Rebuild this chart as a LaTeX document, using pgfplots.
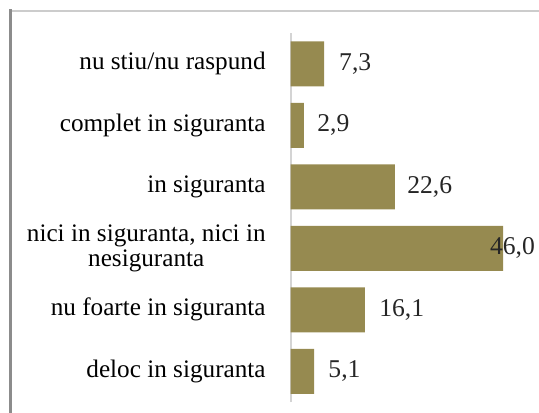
\documentclass[border=0pt]{standalone}
\usepackage{pgfplots}
\pgfplotsset{compat=1.18}
\usepackage{fontspec}
\setmainfont{Liberation Serif}
\definecolor{barcol}{RGB}{150,138,80}
\definecolor{framecol}{RGB}{140,140,140}
\definecolor{toplinecol}{RGB}{204,204,204}
\definecolor{axcol}{RGB}{212,212,212}

\pgfplotstableread{
y  x    lab   dx
0  5.1  5,1   7
1  16.1 16,1  7
2  46.0 46,0  -6.7
3  22.6 22,6  6
4  2.9  2,9   6.5
5  7.3  7,3   7.3
}\answers

\begin{document}
\begin{tikzpicture}
\useasboundingbox (0,0) rectangle (269.5pt,-206pt);
% outer frame, cut by the page edge on the right and bottom
\draw[toplinecol, line width=1pt] (4.5pt,-5.25pt) -- (280pt,-5.25pt);
\draw[framecol, line width=1.5pt] (5.25pt,-4.5pt) -- (5.25pt,-215pt);
\begin{axis}[
    scale only axis,
    anchor=south west,
    at={(145.25pt,-201pt)},
    width=115.5pt,
    height=184.5pt,
    xmin=0, xmax=50,
    ymin=-0.5, ymax=5.5,
    xbar,
    bar width=22.5pt,
    hide x axis,
    axis y line*=left,
    y axis line style={axcol, line width=1pt, -},
    ytick={0,...,5},
    yticklabels={deloc in siguranta, nu foarte in siguranta,
        {nici in siguranta, nici in\\nesiguranta}, in siguranta,
        complet in siguranta, nu stiu/nu raspund},
    major tick length=0pt,
    yticklabel style={align=center, inner sep=0pt, xshift=-12.25pt,
        font=\fontsize{12.6}{12.5}\selectfont},
    nodes near coords,
    point meta=explicit symbolic,
    visualization depends on={\thisrow{dx} \as \dx},
    nodes near coords style={anchor=west, inner sep=0pt, xshift=\dx pt,
        font=\fontsize{12.8}{14}\selectfont, text=black!85},
    clip=false,
]
\addplot[fill=barcol, draw=none] table[x=x, y=y, meta=lab] {\answers};
\end{axis}
\end{tikzpicture}
\end{document}
